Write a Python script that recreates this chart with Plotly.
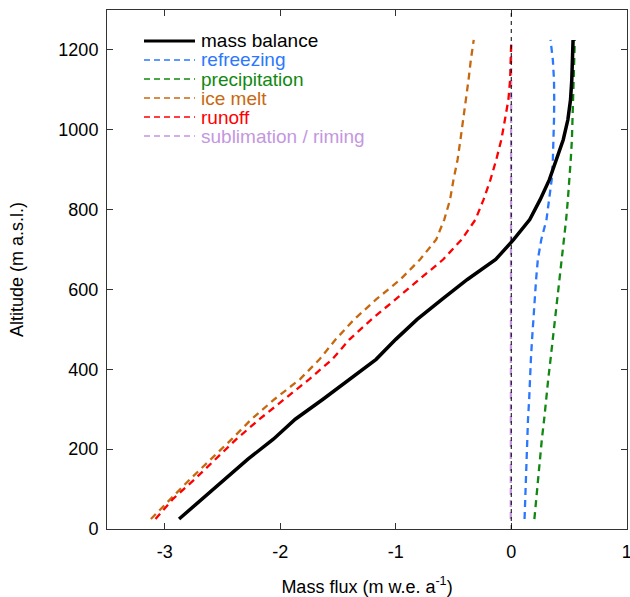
import plotly.graph_objects as go

altitude = [25, 75, 125, 175, 225, 275, 325, 375, 425, 475, 525, 575, 625,
            675, 725, 775, 825, 875, 925, 975, 1025, 1075, 1125, 1175, 1225]

mass_balance = [-2.876, -2.675, -2.476, -2.28, -2.06, -1.87, -1.63, -1.40, -1.17,
                -1.00, -0.815, -0.60, -0.38, -0.135, 0.02, 0.16, 0.25, 0.33, 0.39,
                0.45, 0.49, 0.513, 0.524, 0.53, 0.535]
refreezing = [0.115, 0.12, 0.125, 0.13, 0.14, 0.145, 0.155, 0.16, 0.17, 0.18, 0.19,
              0.20, 0.215, 0.23, 0.26, 0.305, 0.33, 0.35, 0.36, 0.367, 0.37, 0.372,
              0.37, 0.36, 0.34]
precipitation = [0.20, 0.215, 0.23, 0.25, 0.265, 0.285, 0.30, 0.32, 0.34, 0.36, 0.38,
                 0.40, 0.42, 0.44, 0.46, 0.475, 0.49, 0.505, 0.515, 0.525, 0.53,
                 0.535, 0.54, 0.545, 0.55]
ice_melt = [-3.12, -2.95, -2.78, -2.60, -2.42, -2.25, -2.05, -1.83, -1.66, -1.52,
            -1.36, -1.17, -0.96, -0.79, -0.65, -0.58, -0.53, -0.50, -0.465, -0.44,
            -0.415, -0.39, -0.37, -0.35, -0.325]
runoff = [-3.08, -2.93, -2.74, -2.56, -2.38, -2.18, -1.96, -1.75, -1.55, -1.40,
          -1.21, -1.00, -0.79, -0.59, -0.43, -0.31, -0.24, -0.18, -0.13, -0.086,
          -0.055, -0.025, -0.01, -0.005, 0.0]
sublimation = [-0.004, -0.004, -0.004, -0.004, -0.003, -0.003, -0.003, -0.003,
               -0.003, -0.003, -0.002, -0.002, -0.002, -0.002, -0.002, -0.002,
               -0.001, -0.001, -0.001, -0.001, -0.001, -0.001, -0.001, -0.001, -0.001]

series_names = ["mass balance", "refreezing", "precipitation", "ice melt", "runoff",
                "sublimation / riming"]
series_values = [mass_balance, refreezing, precipitation, ice_melt, runoff, sublimation]
series_colors = ["#000000", "#2b78ff", "#118811", "#c8680e", "#ff0000", "#c497e0"]

x_ticks = [-3, -2, -1, 0, 1]
y_ticks = [0, 200, 400, 600, 800, 1000, 1200]

FONT = "Liberation Sans, Arial, Helvetica, sans-serif"

fig = go.Figure()

# draw dashed series first (sublimation lowest), mass balance on top
order = [5, 3, 4, 1, 2, 0]
for i in order:
    solid = i == 0
    fig.add_trace(go.Scatter(
        x=series_values[i], y=altitude, mode="lines", name=series_names[i],
        line=dict(color=series_colors[i], width=3.5 if solid else 2.3,
                  dash="solid" if solid else "7px,5px"),
        showlegend=False, hoverinfo="skip"))

# zero line
fig.add_shape(type="line", xref="x", yref="paper", x0=0, x1=0, y0=0, y1=1,
              line=dict(color="black", width=1, dash="4px,4px"), layer="above")

# manual legend
L, R, T, B = 107, 627, 10, 529
W, H = R - L, B - T
row_y = [41, 60, 79, 98, 117, 136]
for i, name in enumerate(series_names):
    yp = (B - row_y[i]) / H
    fig.add_shape(type="line", xref="paper", yref="paper",
                  x0=(144 - L) / W, x1=(195 - L) / W, y0=yp, y1=yp,
                  line=dict(color=series_colors[i], width=3 if i == 0 else 1.5,
                            dash="solid" if i == 0 else "6px,4px"))
    fig.add_annotation(xref="paper", yref="paper", x=(199 - L) / W, y=yp,
                       text=name, showarrow=False, xanchor="left", yanchor="middle",
                       font=dict(family=FONT, size=19, color=series_colors[i]))

axis_common = dict(showline=True, linecolor="#333333", linewidth=1, mirror="ticks",
                   ticks="inside", ticklen=6, tickcolor="#333333", showgrid=False,
                   zeroline=False, ticklabeloverflow="allow",
                   tickfont=dict(family=FONT, size=18, color="black"))

fig.update_xaxes(range=[-3.5, 1.002], tickvals=x_ticks, ticktext=[str(v) for v in x_ticks],
                 ticklabelstandoff=6,
                 title=dict(text="Mass flux (m w.e. a<sup>-1</sup>)",
                            font=dict(family=FONT, size=18, color="black"), standoff=20),
                 automargin=False, **axis_common)
fig.update_yaxes(range=[0, 1300], tickvals=y_ticks, ticktext=[str(v) for v in y_ticks],
                 ticklabelstandoff=4,
                 title=dict(text="Altitude (m a.s.l.)",
                            font=dict(family=FONT, size=18, color="black"), standoff=30),
                 automargin=False, **axis_common)

fig.update_layout(width=630, height=597, margin=dict(l=L, r=630 - R, t=T, b=597 - B),
                  plot_bgcolor="white", paper_bgcolor="white",
                  font=dict(family=FONT, size=18, color="black"))

fig.write_html("out.html")
